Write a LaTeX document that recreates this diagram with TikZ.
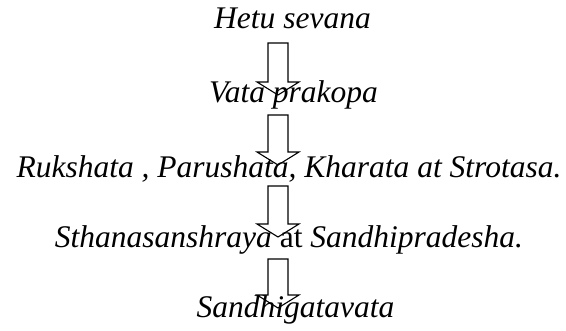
\documentclass[tikz,border=0pt]{standalone}
\usepackage{fontspec}
\setmainfont{Liberation Serif}
\usetikzlibrary{calc}
\tikzset{
  lbl/.style={anchor=base, inner sep=0pt, font=\fontsize{31.5}{36}\selectfont\itshape},
  blockarrow/.style={draw=black, line width=1.1pt, line join=miter,
    to path={($(\tikztostart)+(-10,0)$) -- ($(\tikztostart)+(10,0)$)
      -- ($(\tikztotarget)+(10,-13)$) -- ($(\tikztotarget)+(21,-13)$)
      -- (\tikztotarget) -- ($(\tikztotarget)+(-21,-13)$)
      -- ($(\tikztotarget)+(-10,-13)$) -- cycle}}
}
\begin{document}
\begin{tikzpicture}[x=1pt,y=-1pt]
\useasboundingbox (0,0) rectangle (566,330);
\node[lbl] (l1) at (292.5,28) {Hetu sevana};
\node[lbl] (l2) at (293.5,102) {Vata prakopa};
\node[lbl] (l3) at (289,177) {Rukshata , Parushata, Kharata at Strotasa.};
\node[lbl] (l4) at (289,247) {Sthanasanshraya \textup{at} Sandhipradesha.};
\node[lbl] (l5) at (295.5,317) {Sandhigatavata};
\coordinate (a1s) at (278,43);  \coordinate (a1e) at (278,95);
\coordinate (a2s) at (278,115); \coordinate (a2e) at (278,165);
\coordinate (a3s) at (278,186); \coordinate (a3e) at (278,237);
\coordinate (a4s) at (278,259); \coordinate (a4e) at (278,308);
\draw[blockarrow] (a1s) to (a1e);
\draw[blockarrow] (a2s) to (a2e);
\draw[blockarrow] (a3s) to (a3e);
\draw[blockarrow] (a4s) to (a4e);
\end{tikzpicture}
\end{document}
